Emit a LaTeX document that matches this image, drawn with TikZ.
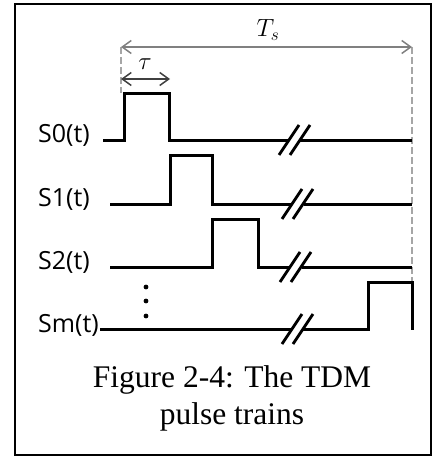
\documentclass[tikz,border=0pt]{standalone}
\usepackage{fontspec}
\setmainfont{Liberation Serif}
\newfontfamily\etiqfont{Open Sans}
\usetikzlibrary{arrows.meta}

\begin{document}
\begin{tikzpicture}[x=1pt,y=-1pt,
    senal/.style={line width=3pt,line join=miter},
    cota/.style={line width=1.5pt,{Straight Barb[length=9pt,width=13pt]}-{Straight Barb[length=9pt,width=13pt]}},
    guia/.style={gray!70,line width=1.5pt,dash pattern=on 7pt off 3pt},
    etiq/.style={anchor=base west,inner sep=0pt,font=\etiqfont\fontsize{25}{30}\selectfont}]

    \useasboundingbox (0,0) rectangle (437,460);

    % Marco
    \draw[line width=1.8pt] (15,4) rectangle (431,455);

    % Cotas
    \coordinate (ts0) at (121,47);
    \coordinate (ts1) at (412,47);
    \coordinate (tau1) at (170,79);
    \draw[guia] (ts0) -- (121,93);
    \draw[guia] (ts1) -- (412,282);
    \draw[cota,gray] (ts0) -- (ts1);
    \draw[cota,black!75] (121,79) -- (tau1);
    \node (Ts) at (268,30) {\fontsize{24}{28}\selectfont$T_s$};
    \node (tau) at (145,64) {\fontsize{24}{28}\selectfont$\tau$};

    % Etiquetas
    \node[etiq] (s0) at (38,142) {S0(t)};
    \node[etiq] (s1) at (38,206) {S1(t)};
    \node[etiq] (s2) at (38,269) {S2(t)};
    \node[etiq] (sm) at (38,332) {Sm(t)};

    % Trenes de pulsos
    \draw[senal] (103,140) -- (124,140) -- (124,93) -- (169,93) -- (169,140) -- (289,140)
        (300,140) -- (412,140);
    \draw[senal] (110,204) -- (170,204) -- (170,155) -- (212,155) -- (212,204) -- (292,204)
        (304,204) -- (412,204);
    \draw[senal] (110,267) -- (212,267) -- (212,219) -- (258,219) -- (258,267) -- (290,267)
        (302,267) -- (412,267);
    \draw[senal] (100,329) -- (292,329)
        (303,329) -- (368,329) -- (368,282) -- (412,282) -- (412,330);

    % Cortes
    \foreach \x/\y in {289/140, 292/204, 290/267, 292/329}{
        \draw[line width=2.8pt] (\x-10,\y+15) -- (\x+10,\y-15);
        \draw[line width=2.8pt] (\x+1,\y+15) -- (\x+21,\y-15);
    }

    % Puntos
    \foreach \y in {287,301,316}
        \fill (146,\y) circle (2.4pt);

    % Pie de figura
    \node[align=center,font=\fontsize{31.5}{37}\selectfont] (pie) at (232,398)
        {Figure 2-4: The TDM\\pulse trains};

\end{tikzpicture}
\end{document}
